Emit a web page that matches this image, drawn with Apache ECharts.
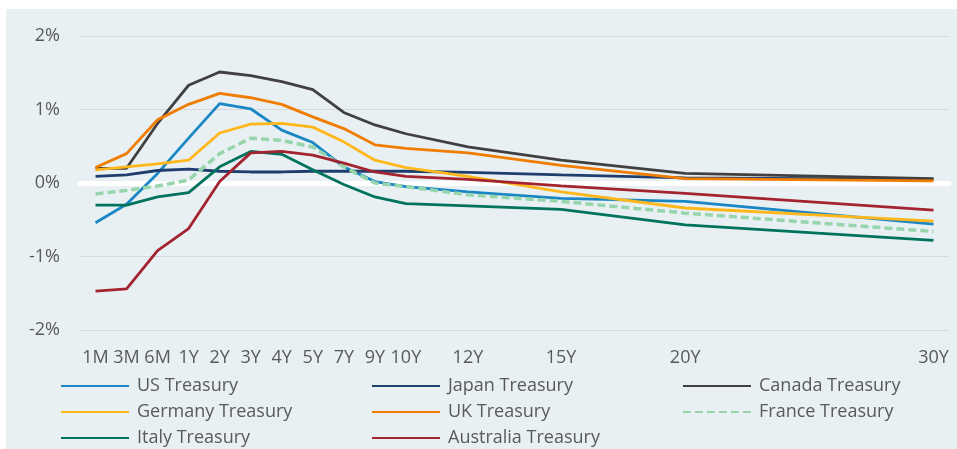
<!DOCTYPE html>
<html>
<head>
<meta charset="utf-8">
<script src="https://cdn.jsdelivr.net/npm/echarts@6/dist/echarts.min.js"></script>
<style>
  html, body { margin: 0; padding: 0; background: #fff; }
  #main { position: absolute; left: 6px; top: 9px; width: 951px; height: 440px; }
</style>
</head>
<body>
<div id="main"></div>
<script>
// tenors and the slot each one sits in on the category axis
var tenors = ['1M', '3M', '6M', '1Y', '2Y', '3Y', '4Y', '5Y', '7Y', '9Y', '10Y', '12Y', '15Y', '20Y', '30Y'];
var tenorSlots = [0, 1, 2, 3, 4, 5, 6, 7, 8, 9, 10, 12, 15, 19, 27];
var slotCount = 28;

var yTicks = [-2, -1, 0, 1, 2];

// yields (%) per tenor
var usTreasury = [-0.54, -0.29, 0.13, 0.61, 1.08, 1.01, 0.72, 0.55, 0.22, 0.02, -0.05, -0.12, -0.21, -0.25, -0.56];
var japanTreasury = [0.09, 0.11, 0.17, 0.19, 0.16, 0.15, 0.15, 0.16, 0.16, 0.16, 0.16, 0.145, 0.11, 0.07, 0.05];
var canadaTreasury = [0.20, 0.20, 0.81, 1.33, 1.51, 1.46, 1.38, 1.27, 0.96, 0.79, 0.67, 0.49, 0.31, 0.13, 0.06];
var germanyTreasury = [0.18, 0.22, 0.26, 0.31, 0.68, 0.80, 0.81, 0.76, 0.56, 0.31, 0.21, 0.09, -0.12, -0.34, -0.52];
var ukTreasury = [0.21, 0.40, 0.86, 1.07, 1.22, 1.16, 1.07, 0.90, 0.74, 0.52, 0.47, 0.41, 0.24, 0.06, 0.03];
var franceTreasury = [-0.15, -0.10, -0.04, 0.04, 0.40, 0.61, 0.58, 0.49, 0.22, 0.00, -0.05, -0.16, -0.25, -0.41, -0.66];
var italyTreasury = [-0.30, -0.30, -0.19, -0.13, 0.22, 0.43, 0.39, 0.18, -0.02, -0.19, -0.28, -0.31, -0.36, -0.57, -0.78];
var australiaTreasury = [-1.47, -1.44, -0.92, -0.62, 0.02, 0.41, 0.43, 0.38, 0.27, 0.15, 0.09, 0.05, -0.04, -0.14, -0.37];

var font = 'Open Sans';
var textColor = '#595959';

// category labels, blank where there is no tenor
var slotLabels = [];
for (var i = 0; i < slotCount; i++) slotLabels.push('');
tenorSlots.forEach(function (s, k) { slotLabels[s] = tenors[k]; });

function toSlots(values) {
    var out = [];
    for (var i = 0; i < slotCount; i++) out.push(null);
    tenorSlots.forEach(function (s, k) { out[s] = values[k]; });
    return out;
}

function lineSeries(name, values, color, width, dash) {
    return {
        name: name,
        type: 'line',
        data: toSlots(values),
        connectNulls: true,
        symbol: 'none',
        showSymbol: false,
        z: 3,
        lineStyle: { color: color, width: width, type: dash || 'solid' },
        itemStyle: { color: color }
    };
}

var series = [
    lineSeries('US Treasury', usTreasury, '#1a86c4', 2.8),
    lineSeries('Japan Treasury', japanTreasury, '#1f3d6d', 2.8),
    lineSeries('Canada Treasury', canadaTreasury, '#404040', 2.8),
    lineSeries('Germany Treasury', germanyTreasury, '#ffb71b', 2.8),
    lineSeries('UK Treasury', ukTreasury, '#f07c00', 2.8),
    lineSeries('France Treasury', franceTreasury, '#97d6ad', 3.5, [8, 4]),
    lineSeries('Italy Treasury', italyTreasury, '#00735f', 2.8),
    lineSeries('Australia Treasury', australiaTreasury, '#a3232f', 2.8)
];

function legendCol(left, names) {
    return {
        orient: 'vertical',
        left: left,
        top: 367,
        height: 73,
        padding: 0,
        data: names,
        itemWidth: 68,
        itemHeight: 14,
        itemGap: 6,
        selectedMode: false,
        itemStyle: { opacity: 0 },
        textStyle: { color: textColor, fontFamily: font, fontSize: 18, lineHeight: 20, padding: [0, 0, 0, 3] }
    };
}

var myChart = echarts.init(document.getElementById('main'));

var option = {
    backgroundColor: '#e8f0f3',
    animation: false,
    grid: { left: 74, top: 27, width: 869, height: 294, containLabel: false },
    legend: [
        legendCol(54, ['US Treasury', 'Germany Treasury', 'Italy Treasury']),
        legendCol(365, ['Japan Treasury', 'UK Treasury', 'Australia Treasury']),
        legendCol(676, ['Canada Treasury', 'France Treasury'])
    ],
    xAxis: [{
        type: 'category',
        data: slotLabels,
        boundaryGap: true,
        position: 'bottom',
        axisLine: { show: false, onZero: false },
        axisTick: { show: false },
        axisLabel: { interval: 0, color: textColor, fontFamily: font, fontSize: 18, margin: 19 }
    }, {
        type: 'category',
        data: slotLabels,
        boundaryGap: true,
        position: 'bottom',
        axisLine: { show: true, onZero: true, lineStyle: { color: '#ffffff', width: 5 } },
        axisTick: { show: false },
        axisLabel: { show: false }
    }],
    yAxis: {
        type: 'value',
        min: yTicks[0],
        max: yTicks[yTicks.length - 1],
        interval: 1,
        axisLine: { show: false },
        axisTick: { show: false },
        splitLine: { lineStyle: { color: '#d9d9d9', width: 1 } },
        axisLabel: { color: textColor, fontFamily: font, fontSize: 18, margin: 20, formatter: '{value}%' }
    },
    series: series
};

myChart.setOption(option);
</script>
</body>
</html>
